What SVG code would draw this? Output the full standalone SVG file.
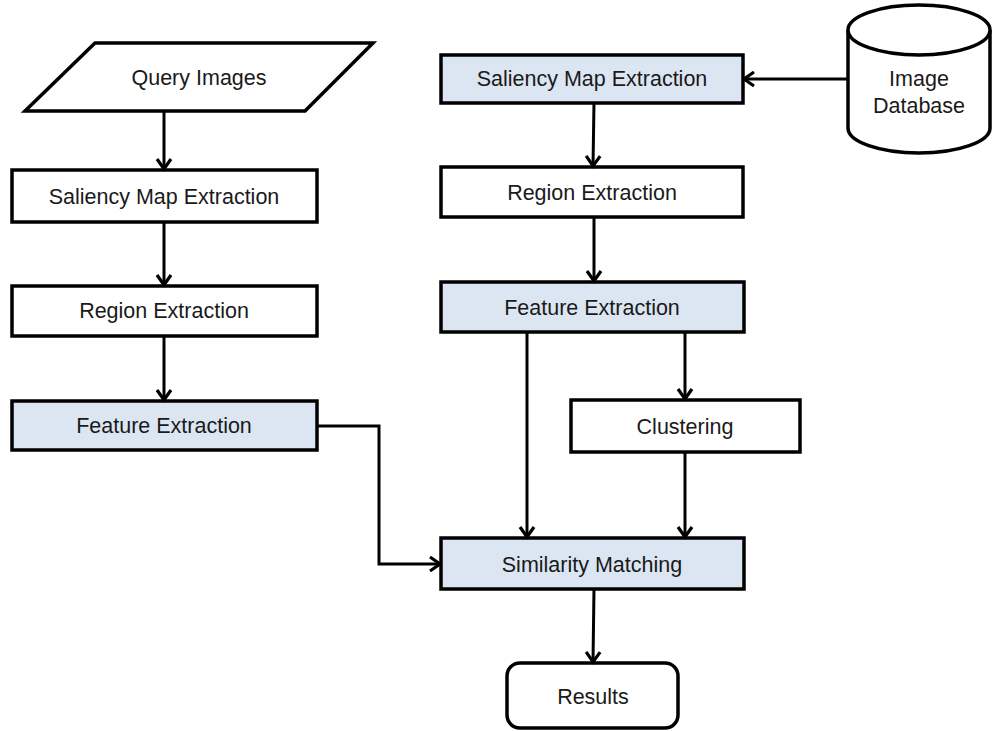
<svg xmlns="http://www.w3.org/2000/svg" width="992" height="731" viewBox="0 0 992 731">
  <style>
    .box { stroke: #000; stroke-width: 3.5; }
    .plain { fill: #fff; }
    .shade { fill: #dce6f2; }
    .lbl { font-family: "Liberation Sans", Arial, sans-serif; font-size: 21.5px; fill: #1a1a1a; text-anchor: middle; dominant-baseline: central; }
    .conn { fill: none; stroke: #000; stroke-width: 3; marker-end: url(#head); }
  </style>
  <defs>
    <marker id="head" markerUnits="userSpaceOnUse" markerWidth="18" markerHeight="18" refX="13" refY="9" orient="auto">
      <path d="M3,2 L13,9 L3,16" fill="none" stroke="#000" stroke-width="3.2"/>
    </marker>
  </defs>
  <rect width="992" height="731" fill="#fff"/>

  <!-- query branch -->
  <g id="query-images">
    <polygon class="box plain" points="95,43 373,43 305,111 25,111"/>
    <text class="lbl" x="199" y="78">Query Images</text>
  </g>
  <g id="q-saliency">
    <rect class="box plain" x="12" y="170" width="305" height="52"/>
    <text class="lbl" x="164" y="197">Saliency Map Extraction</text>
  </g>
  <g id="q-region">
    <rect class="box plain" x="12" y="286" width="305" height="50"/>
    <text class="lbl" x="164" y="311">Region Extraction</text>
  </g>
  <g id="q-feature">
    <rect class="box shade" x="12" y="401" width="305" height="49"/>
    <text class="lbl" x="164" y="426">Feature Extraction</text>
  </g>

  <!-- database branch -->
  <g id="image-database">
    <path class="box plain" d="M848,30 L848,128 A71,25 0 0 0 990,128 L990,30"/>
    <ellipse class="box plain" cx="919" cy="30" rx="71" ry="25"/>
    <text class="lbl" x="919" y="79">Image</text>
    <text class="lbl" x="919" y="106">Database</text>
  </g>
  <g id="d-saliency">
    <rect class="box shade" x="441" y="55" width="302" height="48"/>
    <text class="lbl" x="592" y="79">Saliency Map Extraction</text>
  </g>
  <g id="d-region">
    <rect class="box plain" x="441" y="167" width="302" height="50"/>
    <text class="lbl" x="592" y="193">Region Extraction</text>
  </g>
  <g id="d-feature">
    <rect class="box shade" x="441" y="282" width="303" height="50"/>
    <text class="lbl" x="592" y="308">Feature Extraction</text>
  </g>
  <g id="clustering">
    <rect class="box plain" x="571" y="400" width="229" height="52"/>
    <text class="lbl" x="685" y="427">Clustering</text>
  </g>
  <g id="similarity">
    <rect class="box shade" x="441" y="538" width="303" height="51"/>
    <text class="lbl" x="592" y="565">Similarity Matching</text>
  </g>
  <g id="results">
    <rect class="box plain" x="507" y="663" width="171" height="65" rx="13" ry="13"/>
    <text class="lbl" x="593" y="697">Results</text>
  </g>

  <!-- connectors -->
  <g id="connectors">
    <line class="conn" x1="164" y1="111" x2="164" y2="169"/>
    <line class="conn" x1="164" y1="222" x2="164" y2="285"/>
    <line class="conn" x1="164" y1="336" x2="164" y2="400"/>
    <polyline class="conn" points="317,426 379,426 379,564 440,564"/>
    <line class="conn" x1="848" y1="79" x2="744" y2="79"/>
    <line class="conn" x1="594" y1="103" x2="593" y2="166"/>
    <line class="conn" x1="594" y1="217" x2="594" y2="281"/>
    <line class="conn" x1="527" y1="332" x2="527" y2="537"/>
    <line class="conn" x1="685" y1="332" x2="685" y2="399"/>
    <line class="conn" x1="685" y1="452" x2="685" y2="537"/>
    <line class="conn" x1="594" y1="589" x2="593" y2="662"/>
  </g>
</svg>
